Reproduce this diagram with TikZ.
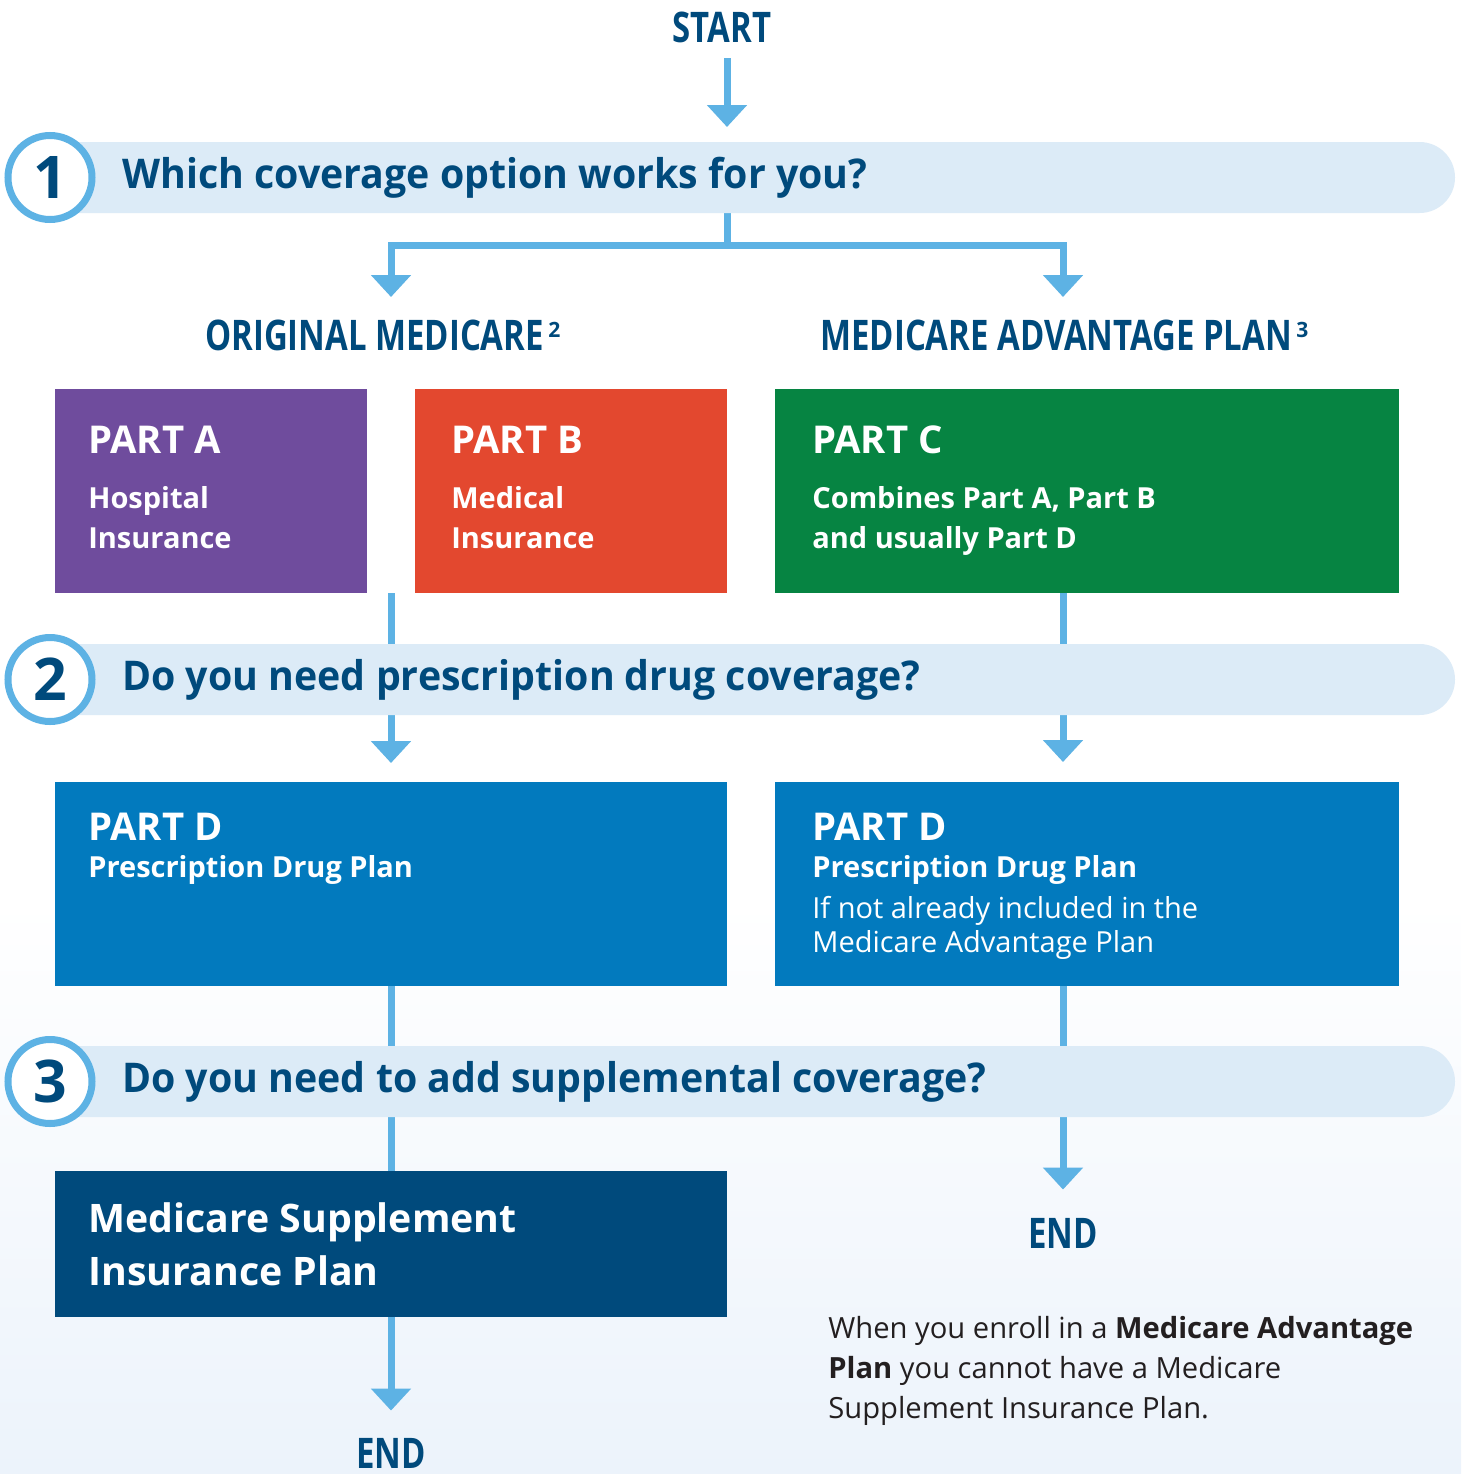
\documentclass[tikz,border=0pt]{standalone}
\usepackage{fontspec}
\setmainfont{Open Sans}
\newfontfamily\condfont[FakeStretch=0.78]{Open Sans}
\newfontfamily\askfont[FakeStretch=0.96]{Open Sans}
\usetikzlibrary{arrows.meta,positioning}

\definecolor{navy}{RGB}{0,74,124}
\definecolor{flowblue}{RGB}{93,178,228}
\definecolor{bandblue}{RGB}{220,235,247}
\definecolor{partApurple}{RGB}{111,76,157}
\definecolor{partBred}{RGB}{227,72,47}
\definecolor{partCgreen}{RGB}{6,132,66}
\definecolor{partDblue}{RGB}{2,122,190}
\definecolor{suppnavy}{RGB}{0,74,124}
\definecolor{notegray}{RGB}{35,31,32}
\definecolor{bgbottom}{RGB}{236,243,251}

\begin{document}
\begin{tikzpicture}[x=0.02cm,y=-0.02cm,
  flow/.style={draw=flowblue,line width=1.4mm,-{Triangle[width=7.8mm,length=4.4mm]}},
  link/.style={draw=flowblue,line width=1.4mm},
  band/.style={fill=bandblue},
  ring/.style={draw=flowblue,line width=1.4mm,fill=white},
  partbox/.style={anchor=north west,inner sep=0pt,outer sep=0pt,minimum height=4.08cm},
  headtxt/.style={text=navy,inner sep=0pt,font=\condfont\bfseries\fontsize{24}{28}\selectfont},
  qtxt/.style={anchor=base west,text=navy,inner sep=0pt,font=\askfont\bfseries\fontsize{23.3}{28}\selectfont},
  numtxt/.style={text=navy,inner sep=0pt,font=\bfseries\fontsize{33.5}{40}\selectfont},
  titletxt/.style={anchor=base west,text=white,inner sep=0pt,font=\bfseries\fontsize{21.8}{26}\selectfont},
  subtxt/.style={anchor=base west,text=white,inner sep=0pt,font=\bfseries\fontsize{16.5}{20}\selectfont},
  plaintxt/.style={anchor=base west,text=white,inner sep=0pt,font=\fontsize{16.5}{20}\selectfont},
  supptxt/.style={anchor=base west,text=white,inner sep=0pt,font=\bfseries\fontsize{22.35}{28}\selectfont},
  notetxt/.style={anchor=base west,text=notegray,inner sep=0pt,font=\fontsize{16.6}{20}\selectfont}]

\def \sup#1{\hspace{2.6pt}\raisebox{7pt}{\normalfont\bfseries\fontsize{12}{12}\selectfont #1}}

% page and background
\useasboundingbox (0,0) rectangle (1461,1474);
\fill[white] (0,0) rectangle (1461,900);
\shade[top color=white,bottom color=bgbottom] (0,899) rectangle (1461,1474);

% boxes
\node[partbox,fill=partApurple,minimum width=6.24cm] (partA) at (55,389) {};
\node[partbox,fill=partBred,minimum width=6.24cm] (partB) at (415,389) {};
\node[partbox,fill=partCgreen,minimum width=12.48cm] (partC) at (775,389) {};
\node[partbox,fill=partDblue,minimum width=13.44cm] (partDl) at (55,782) {};
\node[partbox,fill=partDblue,minimum width=12.48cm] (partDr) at (775,782) {};
\node[partbox,fill=suppnavy,minimum width=13.44cm,minimum height=2.92cm] (supp) at (55,1171) {};

% headings
\node[headtxt,anchor=base] (start) at (722,42) {START};
\node[headtxt,anchor=base west] (orig) at (205,350) {ORIGINAL MEDICARE\sup{2}};
\node[headtxt,anchor=base west] (adv) at (820,350) {MEDICARE ADVANTAGE PLAN\sup{3}};
\node[headtxt,anchor=base] (endR) at (1063,1248) {END};
\node[headtxt,anchor=base] (endL) at (391,1468) {END};

% connectors
\coordinate (s0) at (727,58);
\coordinate (s1) at (727,127);
\coordinate (q1out) at (727,200);
\coordinate (split) at (727,245);
\coordinate (origTip) at (391,297);
\coordinate (advTip) at (1063,297);
\coordinate (gapAB) at (391,593);

\draw[flow] (s0) -- (s1);
\draw[link] (q1out) -- (split);
\draw[flow] (split) -| (origTip);
\draw[flow] (split) -| (advTip);

\draw[flow,shorten >=3.8mm] (gapAB) -- (partDl.north -| gapAB);
\draw[flow,shorten >=4mm] (partC.south -| advTip) -- (partDr.north -| advTip);
\draw[link] (partDl.south -| gapAB) -- (supp.north -| gapAB);
\draw[flow,shorten >=5.6mm] (partDr.south -| advTip) -- (endR.north);
\draw[flow,shorten >=5.4mm] (supp.south -| gapAB) -- (endL.north);

% question bands
\fill[band] (50,142) -- (1419.5,142) arc (-90:90:35.5) -- (50,213) -- cycle;
\fill[band] (50,644) -- (1419.5,644) arc (-90:90:35.5) -- (50,715) -- cycle;
\fill[band] (50,1046) -- (1419.5,1046) arc (-90:90:35.5) -- (50,1117) -- cycle;

\draw[ring] (50,177.5) circle (42);
\draw[ring] (50,679.5) circle (42);
\draw[ring] (50,1081.5) circle (42);

\node[numtxt] (n1) at (50,177.5) {1};
\node[numtxt] (n2) at (50,679.5) {2};
\node[numtxt] (n3) at (50,1081.5) {3};

\node[qtxt] (q1) at (122,188) {Which coverage option works for you?};
\node[qtxt] (q2) at (122,690) {Do you need prescription drug coverage?};
\node[qtxt] (q3) at (122,1092) {Do you need to add supplemental coverage?};

% box texts
\node[titletxt] (tA) at (88,453) {PART A};
\node[subtxt] (tA1) at (88,508) {Hospital};
\node[subtxt] (tA2) at (88,548) {Insurance};

\node[titletxt] (tB) at (451,453) {PART B};
\node[subtxt] (tB1) at (451,508) {Medical};
\node[subtxt] (tB2) at (451,548) {Insurance};

\node[titletxt] (tC) at (812,453) {PART C};
\node[subtxt] (tC1) at (812,508) {Combines Part A, Part B};
\node[subtxt] (tC2) at (812,548) {and usually Part D};

\node[titletxt] (tDl) at (88,840) {PART D};
\node[subtxt] (tDl1) at (88,877) {Prescription Drug Plan};

\node[titletxt] (tDr) at (812,840) {PART D};
\node[subtxt] (tDr1) at (812,877) {Prescription Drug Plan};
\node[plaintxt] (tDr2) at (812,918) {If not already included in the};
\node[plaintxt] (tDr3) at (812,952) {Medicare Advantage Plan};

\node[supptxt] (tS1) at (88,1232) {Medicare Supplement};
\node[supptxt] (tS2) at (88,1285) {Insurance Plan};

% note
\node[notetxt] (note1) at (828,1338) {When you enroll in a \textbf{Medicare Advantage}};
\node[notetxt] (note2) at (828,1378) {\textbf{Plan} you cannot have a Medicare};
\node[notetxt] (note3) at (828,1418) {Supplement Insurance Plan.};

\end{tikzpicture}
\end{document}
